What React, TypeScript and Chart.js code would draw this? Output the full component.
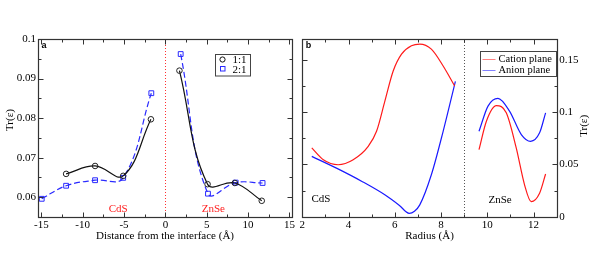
import { useEffect, useRef } from 'react';
import { Chart, registerables } from 'chart.js';

Chart.register(...registerables);

const SERIF = '"Liberation Serif", "Times New Roman", serif';
const SANS = '"Liberation Sans", Arial, sans-serif';

// ---------- Panel a data ----------
const distCircles = [-12.0, -8.5, -5.1, -1.75, 1.7, 5.1, 8.4, 11.65];
const tr11 = [0.0659, 0.0679, 0.0654, 0.0797, 0.092, 0.0633, 0.0636, 0.0591];
const distSquares = [-14.95, -12.0, -8.5, -5.1, -1.7, 1.85, 5.15, 8.5, 11.75];
const tr21 = [0.0596, 0.0629, 0.0643, 0.0649, 0.0863, 0.0962, 0.0609, 0.0637, 0.0636];
const seriesALabels = ['1:1', '2:1'];

// ---------- Panel b data ----------
const radiusCationCdS = [2.41, 2.91, 3.55, 4.2, 4.85, 5.21, 5.57, 5.93, 6.29, 6.72, 7.08, 7.58, 8.09, 8.59];
const cationCdS = [0.0658, 0.0545, 0.0497, 0.0545, 0.0673, 0.0817, 0.1106, 0.1394, 0.1555, 0.1635, 0.1651, 0.1603, 0.1442, 0.125];
const radiusAnionCdS = [2.41, 3.5, 4.6, 5.6, 6.2, 6.62, 6.85, 7.08, 7.58, 8.09, 8.62];
const anionCdS = [0.0577, 0.0462, 0.0335, 0.0205, 0.0108, 0.0032, 0.0052, 0.0113, 0.0401, 0.0817, 0.1295];
const radiusCationZnSe = [9.64, 9.96, 10.39, 10.82, 11.25, 11.61, 11.9, 12.26, 12.52];
const cationZnSe = [0.0641, 0.0913, 0.1062, 0.0994, 0.0658, 0.0305, 0.0144, 0.0225, 0.0408];
const radiusAnionZnSe = [9.64, 10.03, 10.46, 10.96, 11.47, 11.87, 12.26, 12.52];
const anionZnSe = [0.0817, 0.1058, 0.1132, 0.101, 0.0786, 0.0721, 0.0802, 0.0994];
const seriesBLabels = ['Cation plane', 'Anion plane'];

type Pt = { x: number; y: number | null };

function joinWithGap(xa: number[], ya: number[], gapX: number, xb: number[], yb: number[]): Pt[] {
  const pts: Pt[] = xa.map((x, i) => ({ x, y: ya[i] }));
  pts.push({ x: gapX, y: null });
  xb.forEach((x, i) => pts.push({ x, y: yb[i] }));
  return pts;
}

function splitAtZero(xs: number[], ys: number[]): Pt[] {
  const pts: Pt[] = [];
  let gap = false;
  xs.forEach((x, i) => {
    if (!gap && x > 0) {
      pts.push({ x: 0, y: null });
      gap = true;
    }
    pts.push({ x, y: ys[i] });
  });
  return pts;
}

const fmt = (v: number | string) => String(+(+v).toFixed(3));

function drawFrameTicks(
  chart: any,
  xMajor: number[],
  xMinor: number[],
  yMajor: number[],
  yMinor: number[]
) {
  const { ctx, chartArea: ca, scales } = chart;
  const xs = scales.x;
  const ys = scales.y;
  const L = Math.round(ca.left) + 0.5;
  const R = Math.round(ca.right) + 0.5;
  const T = Math.round(ca.top) + 0.5;
  const B = Math.round(ca.bottom) + 0.5;
  ctx.save();
  ctx.setLineDash([]);
  ctx.strokeStyle = '#333';
  ctx.lineWidth = 1;
  ctx.beginPath();
  const xt = (v: number, len: number) => {
    const p = Math.round(xs.getPixelForValue(v)) + 0.5;
    ctx.moveTo(p, B);
    ctx.lineTo(p, B - len);
    ctx.moveTo(p, T);
    ctx.lineTo(p, T + len);
  };
  const yt = (v: number, len: number) => {
    const p = Math.round(ys.getPixelForValue(v)) + 0.5;
    ctx.moveTo(L, p);
    ctx.lineTo(L + len, p);
    ctx.moveTo(R, p);
    ctx.lineTo(R - len, p);
  };
  xMajor.forEach((v) => xt(v, 5));
  xMinor.forEach((v) => xt(v, 3));
  yMajor.forEach((v) => yt(v, 5));
  yMinor.forEach((v) => yt(v, 3));
  ctx.stroke();
  ctx.lineWidth = 1.2;
  ctx.strokeRect(L, T, R - L, B - T);
  ctx.restore();
}

function vDotted(chart: any, value: number, color: string) {
  const { ctx, chartArea: ca, scales } = chart;
  const p = Math.round(scales.x.getPixelForValue(value)) + 0.5;
  ctx.save();
  ctx.strokeStyle = color;
  ctx.lineWidth = 1;
  ctx.setLineDash([1, 2]);
  ctx.beginPath();
  ctx.moveTo(p, ca.top);
  ctx.lineTo(p, ca.bottom);
  ctx.stroke();
  ctx.restore();
}

function verticalTitle(ctx: CanvasRenderingContext2D, text: string, x: number, y: number) {
  ctx.save();
  ctx.translate(x, y);
  ctx.rotate(-Math.PI / 2);
  ctx.textAlign = 'center';
  ctx.textBaseline = 'middle';
  ctx.fillStyle = '#000';
  ctx.font = `11px ${SERIF}`;
  ctx.fillText(text, 0, 0);
  ctx.restore();
}

const panelAPlugin = {
  id: 'panelA',
  beforeDatasetsDraw(chart: any) {
    vDotted(chart, 0, '#ff3030');
  },
  afterDatasetsDraw(chart: any) {
    const { ctx, chartArea: ca, scales } = chart;
    drawFrameTicks(
      chart,
      [-15, -10, -5, 0, 5, 10, 15],
      [-12.5, -7.5, -2.5, 2.5, 7.5, 12.5],
      [0.06, 0.07, 0.08, 0.09, 0.1],
      [0.055, 0.065, 0.075, 0.085, 0.095]
    );
    verticalTitle(ctx, 'Tr(ε)', 10, (ca.top + ca.bottom) / 2 - 8);
    ctx.save();
    ctx.fillStyle = '#000';
    ctx.font = `bold 9px ${SANS}`;
    ctx.textBaseline = 'alphabetic';
    ctx.textAlign = 'left';
    ctx.fillText('a', ca.left + 3.5, ca.top + 9);
    ctx.fillStyle = '#ff2020';
    ctx.font = `11px ${SERIF}`;
    ctx.textAlign = 'center';
    const yb = ca.bottom - 5;
    ctx.fillText('CdS', scales.x.getPixelForValue(-5.7), yb);
    ctx.fillText('ZnSe', scales.x.getPixelForValue(5.8), yb);
    const bx = 215.5, by = 54.5, bw = 35, bh = 21.5;
    ctx.fillStyle = '#fff';
    ctx.fillRect(bx, by, bw, bh);
    ctx.strokeStyle = '#444';
    ctx.lineWidth = 1;
    ctx.strokeRect(bx, by, bw, bh);
    const ds = chart.data.datasets;
    ctx.strokeStyle = ds[0].borderColor;
    ctx.beginPath();
    ctx.arc(222.5, 59.5, 2.6, 0, Math.PI * 2);
    ctx.stroke();
    ctx.strokeStyle = ds[1].borderColor;
    ctx.strokeRect(220.5, 66.5, 4.5, 4.5);
    ctx.fillStyle = '#000';
    ctx.font = `11px ${SERIF}`;
    ctx.textAlign = 'left';
    ctx.fillText(ds[0].label, 232.5, 63.3);
    ctx.fillText(ds[1].label, 232.5, 72.5);
    ctx.restore();
  },
};

const PANEL_B_LEFT = 297;

const panelBPlugin = {
  id: 'panelB',
  beforeDatasetsDraw(chart: any) {
    vDotted(chart, 9, '#555');
  },
  afterDatasetsDraw(chart: any) {
    const { ctx, chartArea: ca } = chart;
    drawFrameTicks(
      chart,
      [2, 4, 6, 8, 10, 12],
      [3, 5, 7, 9, 11],
      [0, 0.05, 0.1, 0.15],
      [0.025, 0.075, 0.125]
    );
    const off = PANEL_B_LEFT;
    ctx.save();
    ctx.fillStyle = '#000';
    ctx.font = `bold 9px ${SANS}`;
    ctx.textAlign = 'left';
    ctx.fillText('b', ca.left + 3.5, ca.top + 9);
    ctx.font = `11px ${SERIF}`;
    ctx.fillText('CdS', 311.5 - off, 202);
    ctx.fillText('ZnSe', 488.5 - off, 202.5);
    const bx = 480.5 - off, by = 51.5, bw = 76, bh = 25;
    ctx.fillStyle = '#fff';
    ctx.fillRect(bx, by, bw, bh);
    ctx.strokeStyle = '#444';
    ctx.lineWidth = 1;
    ctx.strokeRect(bx, by, bw, bh);
    const rows = [59, 70];
    const ds = chart.data.datasets;
    [0, 1].forEach((i) => {
      ctx.strokeStyle = ds[i].borderColor;
      ctx.globalAlpha = 0.55;
      ctx.beginPath();
      ctx.moveTo(482.5 - off, rows[i] + 0.5);
      ctx.lineTo(495.5 - off, rows[i] + 0.5);
      ctx.stroke();
      ctx.globalAlpha = 1;
      ctx.fillStyle = '#000';
      ctx.font = `10.5px ${SERIF}`;
      ctx.textAlign = 'left';
      ctx.textBaseline = 'middle';
      ctx.fillText(ds[i].label, 498.5 - off, rows[i] + 0.5);
    });
    ctx.restore();
    verticalTitle(ctx, 'Tr(ε)', 584 - off, (ca.top + ca.bottom) / 2 - 2);
  },
};

const tickFont = { family: SERIF, size: 11 };
const noGrid = { display: false, drawTicks: false, tickLength: 0 };

export default function App() {
  const refA = useRef<HTMLCanvasElement>(null);
  const refB = useRef<HTMLCanvasElement>(null);

  useEffect(() => {
    const chartA = new Chart(refA.current!, {
      type: 'line',
      data: {
        datasets: [
          {
            label: seriesALabels[0],
            data: splitAtZero(distCircles, tr11) as any,
            borderColor: '#111',
            backgroundColor: 'rgba(0,0,0,0)',
            borderWidth: 1.2,
            tension: 0.4,
            pointStyle: 'circle',
            pointRadius: 2.8,
            pointBorderWidth: 1,
            pointBorderColor: '#222',
            pointBackgroundColor: 'rgba(0,0,0,0)',
            spanGaps: false,
          },
          {
            label: seriesALabels[1],
            data: splitAtZero(distSquares, tr21) as any,
            borderColor: '#2a2aff',
            backgroundColor: 'rgba(0,0,0,0)',
            borderWidth: 1.2,
            borderDash: [6, 3],
            tension: 0.4,
            pointStyle: 'rect',
            pointRadius: 3.4,
            pointBorderWidth: 1,
            pointBorderColor: '#2a2aff',
            pointBackgroundColor: 'rgba(0,0,0,0)',
            spanGaps: false,
          },
        ],
      },
      options: {
        responsive: false,
        animation: false,
        events: [],
        layout: { padding: { left: 0, right: 4, top: 39, bottom: 0 } },
        plugins: { legend: { display: false }, tooltip: { enabled: false } },
        scales: {
          x: {
            type: 'linear',
            min: -15.4,
            max: 15.3,
            grid: noGrid,
            border: { display: false },
            ticks: {
              stepSize: 5,
              includeBounds: false,
              autoSkip: false,
              maxRotation: 0,
              padding: 2,
              color: '#000',
              font: tickFont,
            },
            title: {
              display: true,
              text: 'Distance from the interface (Å)',
              color: '#000',
              font: tickFont,
              padding: { top: 0, bottom: 13 },
            },
            afterFit(s: any) {
              s.height = 39;
            },
          },
          y: {
            type: 'linear',
            min: 0.055,
            max: 0.1,
            grid: noGrid,
            border: { display: false },
            ticks: {
              stepSize: 0.01,
              includeBounds: false,
              padding: 2,
              color: '#000',
              font: tickFont,
              callback: (v: any) => fmt(v),
            },
            title: { display: false },
            afterFit(s: any) {
              s.width = 38;
            },
          },
        },
      } as any,
      plugins: [panelAPlugin],
    });

    const chartB = new Chart(refB.current!, {
      type: 'line',
      data: {
        datasets: [
          {
            label: seriesBLabels[0],
            data: joinWithGap(radiusCationCdS, cationCdS, 9, radiusCationZnSe, cationZnSe) as any,
            borderColor: '#ff1a1a',
            borderWidth: 1.2,
            cubicInterpolationMode: 'monotone',
            pointRadius: 0,
            spanGaps: false,
          },
          {
            label: seriesBLabels[1],
            data: joinWithGap(radiusAnionCdS, anionCdS, 9, radiusAnionZnSe, anionZnSe) as any,
            borderColor: '#1a1aff',
            borderWidth: 1.2,
            cubicInterpolationMode: 'monotone',
            pointRadius: 0,
            spanGaps: false,
          },
        ],
      },
      options: {
        responsive: false,
        animation: false,
        events: [],
        layout: { padding: { left: 5.3, right: 0, top: 39, bottom: 0 } },
        plugins: { legend: { display: false }, tooltip: { enabled: false } },
        scales: {
          x: {
            type: 'linear',
            min: 2,
            max: 13,
            grid: noGrid,
            border: { display: false },
            ticks: {
              stepSize: 2,
              includeBounds: false,
              autoSkip: false,
              maxRotation: 0,
              padding: 2,
              color: '#000',
              font: tickFont,
            },
            title: {
              display: true,
              text: 'Radius (Å)',
              color: '#000',
              font: tickFont,
              padding: { top: 0, bottom: 13 },
            },
            afterFit(s: any) {
              s.height = 39.3;
            },
          },
          y: {
            type: 'linear',
            position: 'right',
            min: 0,
            max: 0.17,
            grid: noGrid,
            border: { display: false },
            ticks: {
              stepSize: 0.05,
              includeBounds: false,
              padding: 2.5,
              color: '#000',
              font: tickFont,
              callback: (v: any) => fmt(v),
            },
            title: { display: false },
            afterFit(s: any) {
              s.width = 37.3;
            },
          },
        },
      } as any,
      plugins: [panelBPlugin],
    });

    return () => {
      chartA.destroy();
      chartB.destroy();
    };
  }, []);

  return (
    <div style={{ position: 'fixed', left: 0, top: 0, width: 594, height: 256, background: '#fff' }}>
      <canvas ref={refA} width={297} height={256} style={{ position: 'absolute', left: 0, top: 0 }} />
      <canvas ref={refB} width={297} height={256} style={{ position: 'absolute', left: PANEL_B_LEFT, top: 0 }} />
    </div>
  );
}
